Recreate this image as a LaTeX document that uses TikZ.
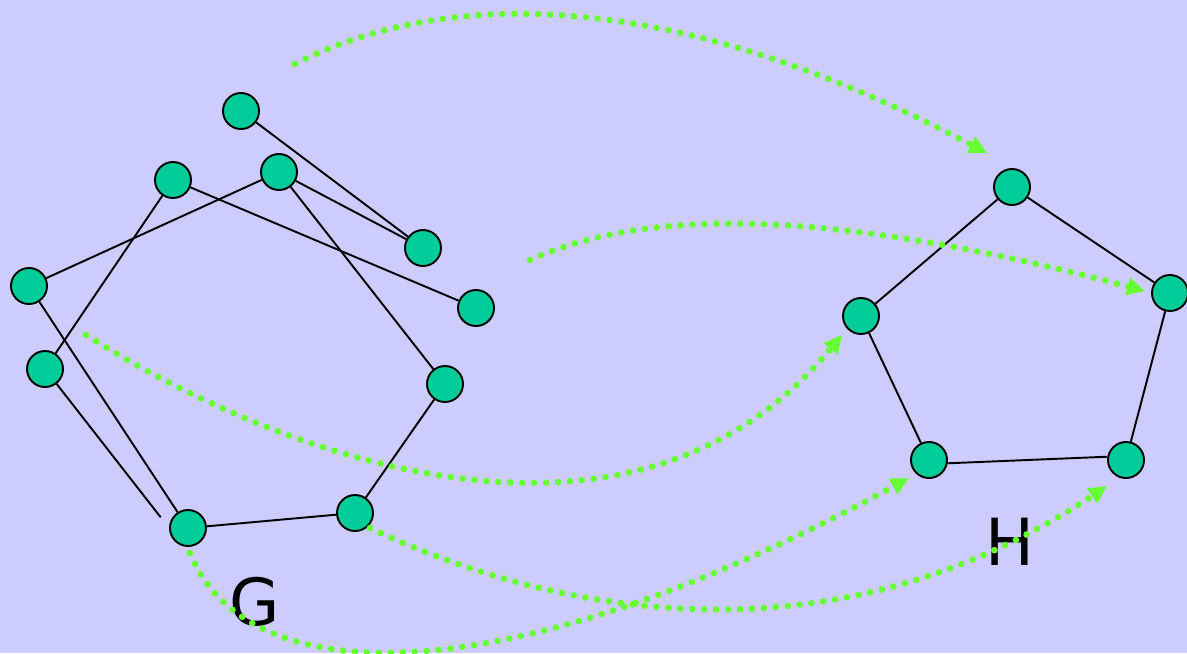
\documentclass[tikz,border=0pt]{standalone}
\usepackage{fontspec}
\setmainfont{DejaVu Sans}
\usetikzlibrary{arrows.meta}
\definecolor{bgblue}{RGB}{204,204,255}
\definecolor{vertexgreen}{RGB}{0,204,153}
\definecolor{mapgreen}{RGB}{102,255,51}

\begin{document}
\begin{tikzpicture}[x=0.02cm, y=-0.02cm,
        vertex/.style={circle, draw, line width=1.1pt, fill=vertexgreen, minimum size=0.72cm, inner sep=0pt},
        gedge/.style={line width=1.1pt},
        mapping/.style={mapgreen, line width=3.8pt, line cap=round, dash pattern=on 0pt off 6.8pt, -{Triangle[length=0.36cm, width=0.34cm]}},
        graphname/.style={font=\fontsize{37}{44}\selectfont}]
        \useasboundingbox[fill=bgblue] (0,0) rectangle (1187,653);

        % graph G
        \node at (241,111) [vertex] (g1) {};
        \node at (173,180) [vertex] (g2) {};
        \node at (279,172) [vertex] (g3) {};
        \node at (423,248) [vertex] (g4) {};
        \node at (29,286)  [vertex] (g5) {};
        \node at (476,308) [vertex] (g6) {};
        \node at (45,369)  [vertex] (g7) {};
        \node at (445,384) [vertex] (g8) {};
        \node at (188,528) [vertex] (g9) {};
        \node at (355,513) [vertex] (g10) {};
        \node at (255,602) [graphname] (G) {G};

        % graph H
        \node at (1012,187) [vertex] (h1) {};
        \node at (1170,293) [vertex] (h2) {};
        \node at (861,316)  [vertex] (h3) {};
        \node at (929,460)  [vertex] (h4) {};
        \node at (1126,460) [vertex] (h5) {};
        \node at (1010,542) [graphname] (H) {H};

        \draw[gedge]  (g1) edge (g4)
                      (g2) edge (g6)
                      (g3) edge (g5)
                      (g3) edge (g4)
                      (g2) edge (g7)
                      (g3) edge (g8)
                      (g5) edge (g9)
                      (g7) edge[shorten >=0.27cm] (g9.west)
                      (g9) edge (g10)
                      (g10) edge (g8)

                      (h1) edge (h2)
                      (h1) edge (h3)
                      (h3) edge (h4)
                      (h4.-10) edge (h5.170)
                      (h5) edge (h2)
            ;

        % the mapping G -> H
        \coordinate (m1s) at (295,64);   \coordinate (m1e) at (987,153);
        \coordinate (m2s) at (530,260);  \coordinate (m2e) at (1145,291);
        \coordinate (m3s) at (86,335);   \coordinate (m3e) at (842,335);
        \coordinate (m4s) at (370,528);  \coordinate (m4e) at (1107,486);
        \coordinate (m5s) at (190,553);  \coordinate (m5e) at (909,478);

        \draw[mapping] (m1s) .. controls (420,0) and (640,-30) .. (m1e);
        \draw[mapping] (m2s) .. controls (640,210) and (820,205) .. (m2e);
        \draw[mapping] (m3s) .. controls (300,470) and (640,580) .. (m3e);
        \draw[mapping] (m4s) .. controls (500,590) and (800,690) .. (m4e);
        \draw[mapping] (m5s) .. controls (250,700) and (520,690) .. (m5e);

    \end{tikzpicture}
\end{document}
